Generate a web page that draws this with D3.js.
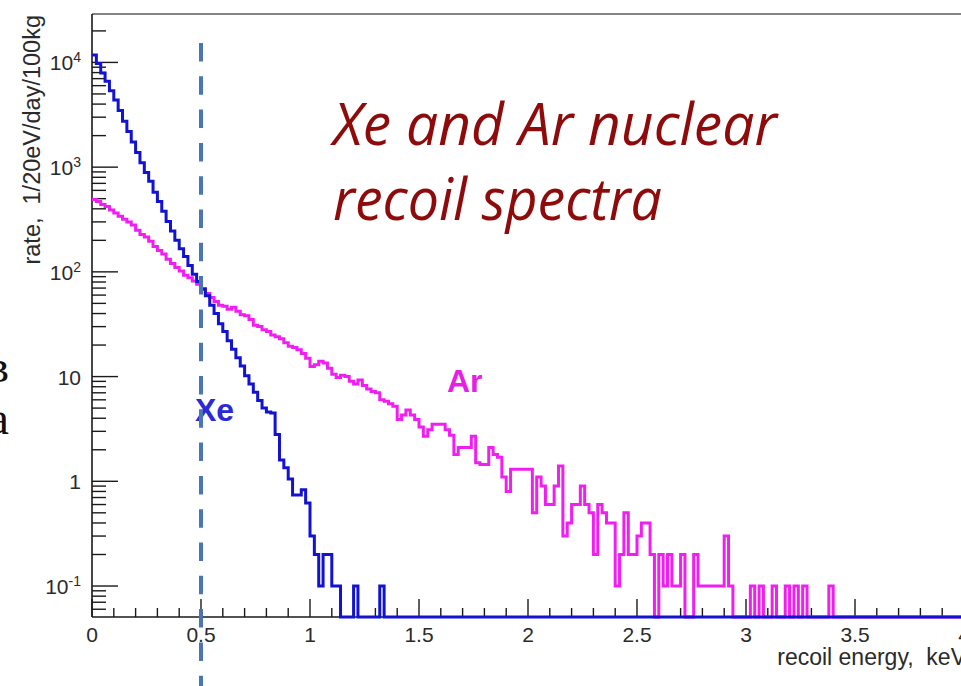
<!DOCTYPE html>
<html>
<head>
<meta charset="utf-8">
<script src="https://cdn.jsdelivr.net/npm/d3@7"></script>
<style>
  html, body { margin: 0; padding: 0; background: #ffffff; overflow: hidden; }
  svg text { white-space: pre; }
</style>
</head>
<body>
<svg id="chart" width="961" height="686"></svg>
<script>
// Recoil-energy histograms, 20 eV bins from 0 to 4 keV (rate per bin, 1/20eV/day/100kg)
const binWidth = 0.02;

const xeRate = [
  11750, 9770, 7940, 6610, 5370, 4370, 3470, 2750, 2190, 1740,
  1380, 1100, 890, 735, 575, 470, 380, 302, 245, 200,
  166, 140, 115, 95, 81, 69, 59, 48, 40, 32,
  27, 22, 18.2, 15.1, 12.6, 10.2, 8.5, 7.1, 5.9, 5.0,
  4.6, 4.5, 2.8, 1.6, 1.35, 1.05, 0.74, 0.74, 0.83, 0.62,
  0.3, 0.2, 0.1, 0.2, 0.2, 0.1, 0.1, 0, 0, 0,
  0.1, 0, 0, 0, 0, 0, 0.1, 0, 0, 0,
  0, 0, 0, 0, 0, 0, 0, 0, 0, 0,
  0, 0, 0, 0, 0, 0, 0, 0, 0, 0,
  0, 0, 0, 0, 0, 0, 0, 0, 0, 0,
  0, 0, 0, 0, 0, 0, 0, 0, 0, 0,
  0, 0, 0, 0, 0, 0, 0, 0, 0, 0,
  0, 0, 0, 0, 0, 0, 0, 0, 0, 0,
  0, 0, 0, 0, 0, 0, 0, 0, 0, 0,
  0, 0, 0, 0, 0, 0, 0, 0, 0, 0,
  0, 0, 0, 0, 0, 0, 0, 0, 0, 0,
  0, 0, 0, 0, 0, 0, 0, 0, 0, 0,
  0, 0, 0, 0, 0, 0, 0, 0, 0, 0,
  0, 0, 0, 0, 0, 0, 0, 0, 0, 0,
  0, 0, 0, 0, 0, 0, 0, 0, 0, 0
];

const arRate = [
  490, 470, 440, 420, 390, 365, 340, 318, 300, 280,
  250, 228, 215, 196, 175, 160, 148, 132, 120, 110,
  102, 93, 88, 82, 76, 68, 62, 57, 52, 48,
  47, 44, 46, 42, 39, 38, 35, 31, 30, 28,
  27, 25, 24, 23, 21, 19.5, 19, 18, 16.6, 15,
  12.5, 13, 14, 13.5, 12, 10.5, 9.8, 10.3, 10, 9.0,
  8.5, 9.3, 8.2, 7.6, 7.2, 7.0, 6.0, 5.8, 5.5, 5.2,
  3.9, 4.3, 4.8, 4.3, 3.9, 3.3, 2.7, 3.1, 3.5, 3.5,
  3.5, 3.1, 2.75, 1.8, 2.1, 2.1, 2.1, 2.7, 1.5, 1.45,
  1.45, 2.1, 1.8, 1.7, 1.1, 0.8, 1.3, 1.3, 1.3, 1.3,
  1.3, 0.5, 1.1, 0.9, 0.6, 0.6, 0.9, 1.4, 0.3, 0.4,
  0.6, 0.6, 0.9, 0.6, 0.5, 0.2, 0.6, 0.5, 0.4, 0.4,
  0.1, 0.2, 0.5, 0.2, 0.2, 0.3, 0.4, 0.4, 0.2, 0,
  0.2, 0.1, 0.2, 0.1, 0.1, 0.2, 0, 0, 0.2, 0.1,
  0.1, 0.1, 0.1, 0.1, 0.1, 0.3, 0.1, 0, 0, 0,
  0, 0.1, 0, 0.1, 0, 0, 0.1, 0, 0, 0.1,
  0, 0.1, 0, 0.1, 0, 0, 0, 0, 0, 0.1,
  0, 0, 0, 0, 0, 0, 0, 0, 0, 0,
  0, 0, 0, 0, 0, 0, 0, 0, 0, 0,
  0, 0, 0, 0, 0, 0, 0, 0, 0, 0
];

const xMajorTicks = [0, 0.5, 1, 1.5, 2, 2.5, 3, 3.5, 4];
const xTickLabels = ["0", "0.5", "1", "1.5", "2", "2.5", "3", "3.5", "4"];
const yDecades = [0.1, 1, 10, 100, 1000, 10000];
const yTickBase = ["10", "1", "10", "10", "10", "10"];
const yTickExp = ["-1", "", "", "2", "3", "4"];
const energyCut = 0.5;
const seriesNames = ["Xe", "Ar"];
const titleLines = ["Xe and Ar nuclear", "recoil spectra"];
const xTitle = "recoil energy,  keV";
const yTitle = "rate,  1/20eV/day/100kg";
const sideFragments = ["в", "а"];

// ---- layout ----
const frame = { left: 92, right: 964, top: 14, bottom: 617 };
const svg = d3.select("#chart");
const axisFont = "'Liberation Sans', Arial, Helvetica, sans-serif";

const x = d3.scaleLinear().domain([0, 4]).range([frame.left, frame.right]);
const y = d3.scaleLog().domain([0.0506, 29000]).range([frame.bottom, frame.top]);

// ---- frame ----
svg.append("line")
  .attr("x1", frame.left).attr("x2", frame.right)
  .attr("y1", frame.top).attr("y2", frame.top)
  .attr("stroke", "#5a5a5a").attr("stroke-width", 1.6);
svg.append("line")
  .attr("x1", frame.left).attr("x2", frame.left)
  .attr("y1", frame.top).attr("y2", frame.bottom)
  .attr("stroke", "#1a1a1a").attr("stroke-width", 1.6);
svg.append("line")
  .attr("x1", frame.left).attr("x2", frame.right)
  .attr("y1", frame.bottom).attr("y2", frame.bottom)
  .attr("stroke", "#1a1a1a").attr("stroke-width", 1.6);

// ---- x ticks (major every 0.5, minor every 0.1) ----
const xMinor = d3.range(0, 41).map(i => i / 10);
svg.append("g").selectAll("line").data(xMinor).join("line")
  .attr("x1", d => x(d)).attr("x2", d => x(d))
  .attr("y1", frame.bottom)
  .attr("y2", d => frame.bottom - (Math.abs(d * 2 - Math.round(d * 2)) < 1e-9 ? 18 : 9))
  .attr("stroke", "#1a1a1a").attr("stroke-width", 1.4);

svg.append("g").selectAll("text").data(xMajorTicks).join("text")
  .attr("x", d => x(d)).attr("y", 642)
  .attr("text-anchor", "middle")
  .attr("font-family", axisFont).attr("font-size", 21)
  .attr("fill", "#2a2a2a")
  .text((d, i) => xTickLabels[i]);

// ---- y ticks (log decades with 2..9 subdivisions) ----
const yMinor = [];
[0.01, 0.1, 1, 10, 100, 1000, 10000].forEach(dec => {
  for (let m = 2; m <= 9; m++) {
    const v = m * dec;
    if (v > y.domain()[0] * 1.02 && v < y.domain()[1]) yMinor.push(v);
  }
});
svg.append("g").selectAll("line").data(yMinor).join("line")
  .attr("x1", frame.left).attr("x2", frame.left + 14)
  .attr("y1", d => y(d)).attr("y2", d => y(d))
  .attr("stroke", "#1a1a1a").attr("stroke-width", 1.4);
svg.append("g").selectAll("line").data(yDecades).join("line")
  .attr("x1", frame.left).attr("x2", frame.left + 26)
  .attr("y1", d => y(d)).attr("y2", d => y(d))
  .attr("stroke", "#1a1a1a").attr("stroke-width", 1.4);

const yLab = svg.append("g").selectAll("text").data(yDecades).join("text")
  .attr("x", 81).attr("y", d => y(d) + 8)
  .attr("text-anchor", "end")
  .attr("font-family", axisFont).attr("font-size", 21)
  .attr("fill", "#2a2a2a");
yLab.each(function (d, i) {
  const t = d3.select(this);
  t.append("tspan").text(yTickBase[i]);
  if (yTickExp[i]) {
    t.append("tspan").attr("dy", -8).attr("font-size", 14).text(yTickExp[i]);
  }
});

// ---- axis titles ----
svg.append("text")
  .attr("x", frame.right + 2).attr("y", 665)
  .attr("text-anchor", "end")
  .attr("font-family", axisFont).attr("font-size", 23)
  .attr("fill", "#2a2a2a")
  .text(xTitle);

svg.append("text")
  .attr("transform", `translate(40,${frame.top + 1}) rotate(-90)`)
  .attr("text-anchor", "end")
  .attr("font-family", axisFont).attr("font-size", 23.5)
  .attr("fill", "#2a2a2a")
  .text(yTitle);

// ---- histogram outlines ----
function histPath(values) {
  const floor = y.range()[0];
  const p = d3.path();
  values.forEach((v, i) => {
    const x0 = x(i * binWidth), x1 = x((i + 1) * binWidth);
    const yy = v > 0 ? y(v) : floor;
    if (i === 0) p.moveTo(x0, yy); else p.lineTo(x0, yy);
    p.lineTo(x1, yy);
  });
  return p.toString();
}

svg.append("path")
  .attr("d", histPath(arRate))
  .attr("fill", "none").attr("stroke", "#f01ef0").attr("stroke-width", 3)
  .attr("stroke-linejoin", "miter");

svg.append("path")
  .attr("d", histPath(xeRate))
  .attr("fill", "none").attr("stroke", "#1212d2").attr("stroke-width", 3)
  .attr("stroke-linejoin", "miter");

// ---- series labels ----
svg.append("text")
  .attr("x", 195).attr("y", 421)
  .attr("font-family", axisFont).attr("font-weight", "bold").attr("font-size", 32)
  .attr("fill", "#2a2ad6")
  .text(seriesNames[0]);
svg.append("text")
  .attr("x", 447).attr("y", 392)
  .attr("font-family", axisFont).attr("font-weight", "bold").attr("font-size", 32)
  .attr("fill", "#e51fe5")
  .text(seriesNames[1]);

// ---- 0.5 keV threshold marker ----
svg.append("line")
  .attr("x1", x(energyCut)).attr("x2", x(energyCut))
  .attr("y1", 43).attr("y2", 700)
  .attr("stroke", "#4a76b6").attr("stroke-width", 4)
  .attr("stroke-dasharray", "18.5 14.8");

// ---- title ----
const titleLengths = [444, 329];
svg.append("g").selectAll("text").data(titleLines).join("text")
  .attr("x", 333).attr("y", (d, i) => 145 + i * 75)
  .attr("font-family", "'Open Sans', 'Noto Sans', sans-serif")
  .attr("font-style", "italic").attr("font-size", 58)
  .attr("fill", "#8e0b0b")
  .attr("textLength", (d, i) => titleLengths[i])
  .attr("lengthAdjust", "spacingAndGlyphs")
  .text(d => d);

// ---- slide text fragments at the left edge ----
svg.append("g").selectAll("text").data(sideFragments).join("text")
  .attr("x", 9).attr("y", (d, i) => 382 + i * 52)
  .attr("text-anchor", "end")
  .attr("font-family", "'Liberation Serif', 'DejaVu Serif', serif")
  .attr("font-size", 46)
  .attr("fill", "#111")
  .text(d => d);
</script>
</body>
</html>
